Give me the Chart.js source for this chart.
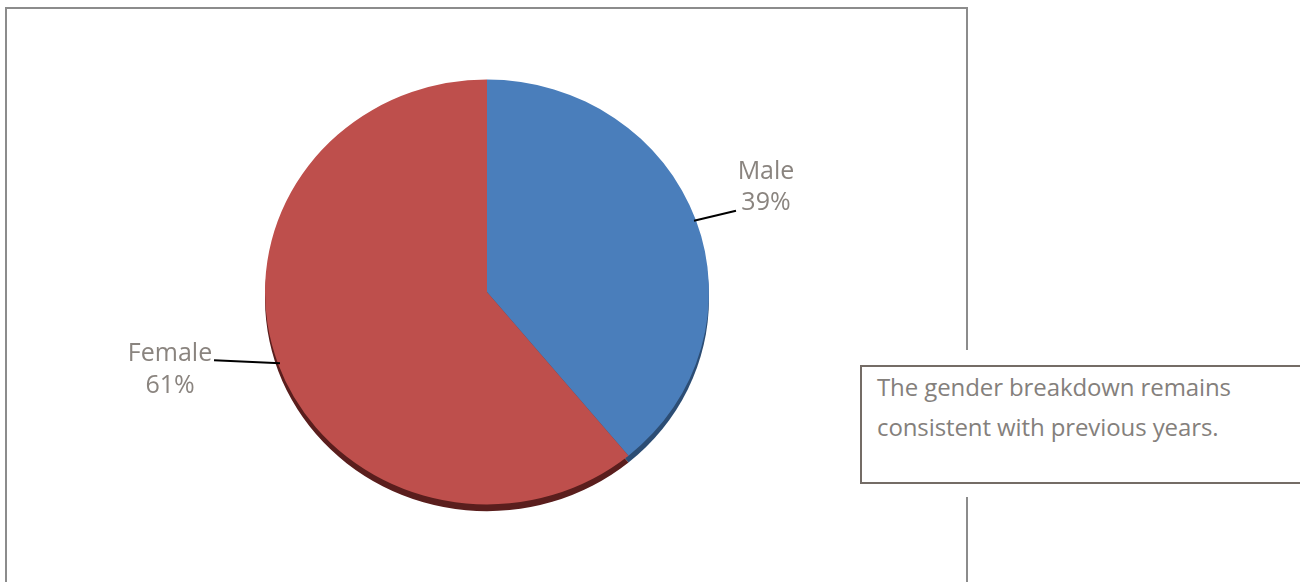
<!DOCTYPE html>
<html>
<head>
<meta charset="utf-8">
<script src="https://cdn.jsdelivr.net/npm/chart.js@4.4.1/dist/chart.umd.min.js"></script>
<style>
    html, body { margin: 0; padding: 0; background: #fff; }
    #wrap { position: relative; width: 1300px; height: 582px; overflow: hidden; }
    #frame {
        position: absolute; left: 5px; top: 7px; width: 963px; height: 600px;
        border: 2px solid #8c8c8c; box-sizing: border-box;
    }
    #pieChart { position: absolute; left: 0; top: 0; }
    #note {
        position: absolute; left: 845px; top: 350px; width: 470px; height: 147px;
        background: #fff;
    }
    #note .box {
        position: absolute; left: 15px; top: 15px; width: 460px; height: 119px;
        border: 2px solid #746c66; box-sizing: border-box;
        padding: 0 0 0 15px;
        font-family: "Open Sans", sans-serif; font-size: 24px; line-height: 40px;
        letter-spacing: -0.1px; color: #84807c;
    }
</style>
</head>
<body>
<div id="wrap">
    <div id="frame"></div>
    <canvas id="pieChart" width="1300" height="582"></canvas>
    <div id="note"><div class="box">The gender breakdown remains<br>consistent with previous years.</div></div>
</div>
<script>
    var categories = ['Male', 'Female'];
    var shares = [39, 61];
    var sliceColors = ['#4a7ebb', '#be4f4c'];
    var sideColors = ['#2c4d74', '#5a1e1d'];

    // pie is drawn slightly squashed, like the tilted original
    var squash = 0.957;

    // where each label sits relative to the edge of its slice
    var labelStyle = [
        { dx: 42, dy: -10, textDx: 30, firstDy: -32, secondDy: -1 },
        { dx: -66, dy: -3, textDx: -44, firstDy: 1, secondDy: 33 }
    ];

    var pieDepth = {
        id: 'pieDepth',
        beforeDatasetsDraw: function (chart) {
            var ctx = chart.ctx;
            var meta = chart.getDatasetMeta(0);
            var c = meta.data[0].getProps(['x', 'y'], true);
            ctx.save();
            ctx.translate(c.x, c.y);
            ctx.scale(1, squash);
            ctx.translate(-c.x, -c.y);
            meta.data.forEach(function (arc, i) {
                var p = arc.getProps(['x', 'y', 'startAngle', 'endAngle', 'outerRadius'], true);
                ctx.fillStyle = sideColors[i];
                ctx.beginPath();
                ctx.moveTo(p.x, p.y + 7);
                ctx.arc(p.x, p.y + 7, p.outerRadius, p.startAngle, p.endAngle);
                ctx.closePath();
                ctx.fill();
            });
        },
        afterDatasetsDraw: function (chart) {
            chart.ctx.restore();
        }
    };

    var pieLabels = {
        id: 'pieLabels',
        afterDatasetsDraw: function (chart) {
            var ctx = chart.ctx;
            var meta = chart.getDatasetMeta(0);
            meta.data.forEach(function (arc, i) {
                var p = arc.getProps(['x', 'y', 'startAngle', 'endAngle', 'outerRadius'], true);
                var mid = (p.startAngle + p.endAngle) / 2;
                var ex = p.x + Math.cos(mid) * (p.outerRadius - 2);
                var ey = p.y + Math.sin(mid) * (p.outerRadius - 2) * squash;
                var s = labelStyle[i];
                var ax = ex + s.dx, ay = ey + s.dy;

                ctx.save();
                ctx.strokeStyle = '#000';
                ctx.lineWidth = 2;
                ctx.beginPath();
                ctx.moveTo(ex, ey);
                ctx.lineTo(ax, ay);
                ctx.stroke();

                ctx.fillStyle = '#8a847f';
                ctx.font = '25px "Open Sans", sans-serif';
                ctx.textAlign = 'center';
                ctx.textBaseline = 'alphabetic';
                ctx.fillText(categories[i], ax + s.textDx, ay + s.firstDy);
                ctx.fillText(shares[i] + '%', ax + s.textDx, ay + s.secondDy);
                ctx.restore();
            });
        }
    };

    new Chart(document.getElementById('pieChart').getContext('2d'), {
        type: 'pie',
        data: {
            labels: categories,
            datasets: [{
                data: shares,
                backgroundColor: sliceColors,
                borderWidth: 0
            }]
        },
        options: {
            responsive: false,
            animation: false,
            layout: { padding: { left: 265, right: 591, top: 70, bottom: 68 } },
            plugins: {
                legend: { display: false },
                tooltip: { enabled: false }
            }
        },
        plugins: [pieDepth, pieLabels]
    });
</script>
</body>
</html>
